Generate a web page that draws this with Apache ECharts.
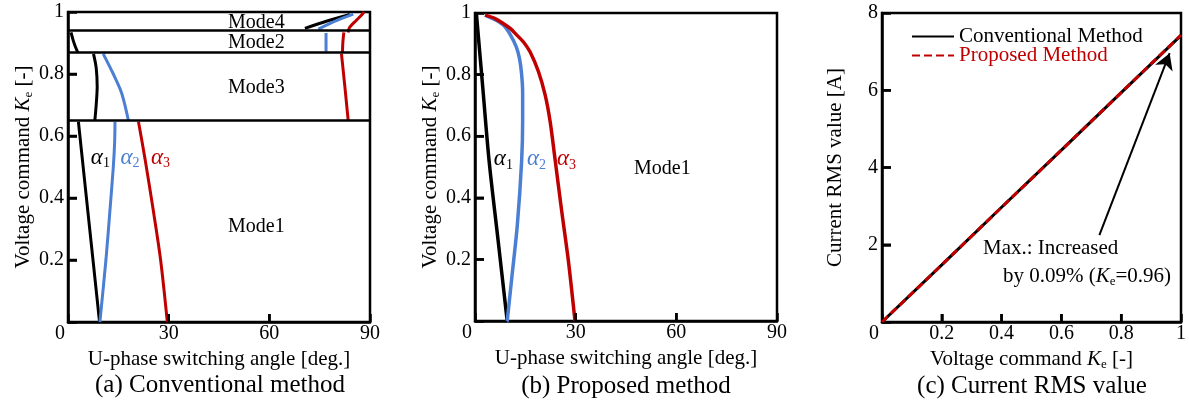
<!DOCTYPE html>
<html>
<head>
<meta charset="utf-8">
<script src="https://cdn.jsdelivr.net/npm/echarts@6/dist/echarts.min.js"></script>
<style>
  html, body { margin: 0; padding: 0; background: #fff; }
  #main { width: 1189px; height: 401px; }
</style>
</head>
<body>
<div id="main"></div>
<script>
// (a) conventional method: switching angles per mode [deg, Ke]
var convA1Mode1 = [[3.1, 0.646], [5.2, 0.43], [7.45, 0.2], [9.4, 0]];
var convA1Mode3 = [[7.6, 0.865], [8.4, 0.82], [8.7, 0.76], [8.4, 0.7], [8.0, 0.65]];
var convA1Mode2 = [[0.9, 0.934], [1.5, 0.91], [2.2, 0.888], [2.9, 0.87]];
var convA1Mode4 = [[70.6, 0.947], [77, 0.97], [84, 0.992]];
var convA2Mode1 = [[9.5, 0], [11.3, 0.2], [12.5, 0.36], [13.5, 0.5], [13.9, 0.58], [14.0, 0.646]];
var convA2Mode3 = [[18, 0.65], [16, 0.738], [13.5, 0.8], [10.5, 0.865]];
var convA2Mode2 = [[76.9, 0.872], [76.9, 0.932]];
var convA2Mode4 = [[74.6, 0.945], [76.1, 0.953], [80, 0.972], [85, 0.993]];
var convA3Mode1 = [[21, 0.646], [23, 0.523], [25.4, 0.361], [27.6, 0.2], [29.6, 0]];
var convA3Mode3 = [[81.5, 0.865], [82.5, 0.76], [83.5, 0.65]];
var convA3Mode2 = [[81.8, 0.87], [81.9, 0.9], [82.2, 0.934]];
var convA3Mode4 = [[83.5, 0.934], [83.9, 0.95], [85.8, 0.972], [87.5, 0.99], [88.2, 1]];
var modeBounds = [0.935, 0.868, 0.648];
var modeLabelsA = [['Mode4', 56.3, 0.965], ['Mode2', 56.3, 0.9], ['Mode3', 56.3, 0.755], ['Mode1', 56.3, 0.307]];
var alphaLabelsA = [['1', 9.8, 0.529, '#000'], ['2', 18.6, 0.529, '#4a7fd4'], ['3', 27.7, 0.529, '#c00000']];

// (b) proposed method
var propA1 = [[0.4, 1], [2.3, 0.76], [4.2, 0.52], [6.9, 0.26], [9.6, 0]];
var propA2 = [[3.0, 0.993], [6, 0.978], [8.5, 0.96], [10.5, 0.93], [12.3, 0.89], [13.3, 0.85], [13.9, 0.8],
  [14.2, 0.74], [14.2, 0.65], [13.9, 0.52], [12.6, 0.31], [11, 0.144], [9.6, 0]];
var propA3 = [[3.0, 0.993], [6, 0.982], [8.4, 0.966], [10.5, 0.95], [12.4, 0.929], [14.5, 0.905], [16.4, 0.874],
  [18.9, 0.81], [20.9, 0.734], [22.4, 0.647], [23.8, 0.53], [25.8, 0.36], [27.8, 0.198], [29.8, 0]];
var modeLabelsB = [['Mode1', 56, 0.493]];
var alphaLabelsB = [['1', 8.6, 0.523, '#000'], ['2', 18.5, 0.523, '#4a7fd4'], ['3', 27.4, 0.523, '#c00000']];

// (c) current RMS value
var keValues = [0, 0.2, 0.4, 0.6, 0.8, 1.0];
var rmsConventional = [0, 1.48, 2.97, 4.45, 5.94, 7.42];
var rmsProposed = [0, 1.48, 2.97, 4.45, 5.94, 7.43];
var arrowFrom = [0.727, 2.25];
var arrowTo = [0.962, 6.96];

// inner tick positions
var angleTicks = [30, 60];
var keTicks = [0.2, 0.4, 0.6, 0.8];
var rmsTicks = [2, 4, 6];

var FONT = 'Liberation Serif';
var BLACK = '#000';
var BLUE = '#4a7fd4';
var RED = '#c00000';

var chartDom = document.getElementById('main');
var myChart = echarts.init(chartDom);

var subRich = {
  i: { fontFamily: FONT, fontSize: 21, fontStyle: 'italic', color: BLACK, lineHeight: 24 },
  s: { fontFamily: FONT, fontSize: 13, color: BLACK, lineHeight: 24, verticalAlign: 'bottom' },
  t: { fontFamily: FONT, fontSize: 21, color: BLACK, lineHeight: 24 }
};
var keName = '{t|Voltage command }{i|K}{s|e}{t| [-]}';

function tickFmt(digits) {
  return function (v) {
    if (v === 0) return '';
    return String(+v.toFixed(digits));
  };
}
function xTickFmt(digits) {
  return function (v) {
    if (v === 0) return '{z|0}';
    return String(+v.toFixed(digits));
  };
}

function xAxisOf(gi, max, interval, digits, name, gap) {
  return {
    type: 'value', gridIndex: gi, min: 0, max: max, interval: interval,
    name: name, nameLocation: 'middle', nameGap: gap,
    nameTextStyle: { fontFamily: FONT, fontSize: 21, color: BLACK, rich: subRich },
    axisLine: { show: true, lineStyle: { color: BLACK, width: 2.5 } },
    axisTick: { show: true, inside: true, length: 8, lineStyle: { color: BLACK, width: 2.5 } },
    axisLabel: {
      fontFamily: FONT, fontSize: 20, color: BLACK, margin: 2, formatter: xTickFmt(digits),
      rich: { z: { fontFamily: FONT, fontSize: 20, color: BLACK, padding: [0, 16, 0, 0] } }
    },
    splitLine: { show: false }
  };
}
function yAxisOf(gi, max, interval, digits, name, gap) {
  return {
    type: 'value', gridIndex: gi, min: 0, max: max, interval: interval,
    name: name, nameLocation: 'middle', nameGap: gap, nameRotate: 90,
    nameTextStyle: { fontFamily: FONT, fontSize: 21, color: BLACK, rich: subRich },
    axisLine: { show: true, lineStyle: { color: BLACK, width: 2.5 } },
    axisTick: { show: true, inside: true, length: 9, lineStyle: { color: BLACK, width: 2.5 } },
    axisLabel: { fontFamily: FONT, fontSize: 20, color: BLACK, margin: 4, formatter: tickFmt(digits) },
    splitLine: { show: false }
  };
}

function curve(data, color, gi, width) {
  return {
    type: 'line', xAxisIndex: gi, yAxisIndex: gi, data: data,
    symbol: 'none', smooth: 0.3, silent: true, z: 3,
    lineStyle: { color: color, width: width }
  };
}

function textMarks(list, gi) {
  return {
    type: 'scatter', xAxisIndex: gi, yAxisIndex: gi, silent: true, z: 4,
    symbolSize: 1, itemStyle: { color: 'rgba(0,0,0,0)', opacity: 1 },
    data: list.map(function (d) { return [d[1], d[2], d[0]]; }),
    label: {
      show: true, position: [0, 0], align: 'center', verticalAlign: 'middle',
      fontFamily: FONT, fontSize: 20, color: BLACK, textBorderWidth: 0,
      formatter: function (p) { return p.data[2]; }
    }
  };
}

function alphaMarks(list, gi) {
  return {
    type: 'scatter', xAxisIndex: gi, yAxisIndex: gi, silent: true, z: 4,
    symbolSize: 1, itemStyle: { color: 'rgba(0,0,0,0)', opacity: 1 },
    data: list.map(function (d) {
      return {
        value: [d[1], d[2]],
        label: {
          formatter: '{a|α}{s|' + d[0] + '}',
          rich: {
            a: { fontFamily: FONT, fontSize: 23, fontStyle: 'italic', color: d[3], lineHeight: 26 },
            s: { fontFamily: FONT, fontSize: 14, color: d[3], lineHeight: 26, verticalAlign: 'bottom' }
          }
        }
      };
    }),
    label: { show: true, position: [0, 0], align: 'center', verticalAlign: 'middle', textBorderWidth: 0 }
  };
}

var series = [];
// panel (a)
[convA1Mode1, convA1Mode3, convA1Mode2, convA1Mode4].forEach(function (d) { series.push(curve(d, BLACK, 0, 3)); });
[convA2Mode1, convA2Mode3, convA2Mode2, convA2Mode4].forEach(function (d) { series.push(curve(d, BLUE, 0, 3)); });
[convA3Mode1, convA3Mode3, convA3Mode2, convA3Mode4].forEach(function (d) { series.push(curve(d, RED, 0, 3)); });
series.push({
  type: 'line', xAxisIndex: 0, yAxisIndex: 0, data: [], silent: true,
  markLine: {
    symbol: 'none', silent: true, animation: false, label: { show: false },
    lineStyle: { color: BLACK, width: 2.5, type: 'solid' },
    data: modeBounds.map(function (v) { return { yAxis: v }; })
  }
});
series.push(textMarks(modeLabelsA, 0));
series.push(alphaMarks(alphaLabelsA, 0));
// panel (b)
series.push(curve(propA1, BLACK, 1, 3.5));
series.push(curve(propA2, BLUE, 1, 3.5));
series.push(curve(propA3, RED, 1, 3.5));
series.push(textMarks(modeLabelsB, 1));
series.push(alphaMarks(alphaLabelsB, 1));
// panel (c)
series.push({
  name: 'Conventional Method', type: 'line', xAxisIndex: 2, yAxisIndex: 2,
  data: keValues.map(function (k, i) { return [k, rmsConventional[i]]; }),
  symbol: 'none', silent: true, z: 3,
  lineStyle: { color: BLACK, width: 3 }, itemStyle: { color: BLACK },
  markLine: {
    symbol: ['none', 'arrow'], symbolSize: [14, 16], silent: true, animation: false,
    label: { show: false }, lineStyle: { color: BLACK, width: 2, type: 'solid' },
    data: [[{ coord: arrowFrom }, { coord: arrowTo }]]
  }
});
series.push({
  name: 'Proposed Method', type: 'line', xAxisIndex: 2, yAxisIndex: 2,
  data: keValues.map(function (k, i) { return [k, rmsProposed[i]]; }),
  symbol: 'none', silent: true, z: 4,
  lineStyle: { color: RED, width: 3, type: [8, 4] }, itemStyle: { color: RED }
});

var textGraphics = [
  { type: 'text', x: 220, y: 385, style: { text: '(a) Conventional method', font: '25px "Liberation Serif"', fill: BLACK, textAlign: 'center', textVerticalAlign: 'middle' } },
  { type: 'text', x: 626, y: 386, style: { text: '(b) Proposed method', font: '25px "Liberation Serif"', fill: BLACK, textAlign: 'center', textVerticalAlign: 'middle' } },
  { type: 'text', x: 1032, y: 386, style: { text: '(c) Current RMS value', font: '25px "Liberation Serif"', fill: BLACK, textAlign: 'center', textVerticalAlign: 'middle' } },
  { type: 'text', x: 983, y: 248, style: { text: 'Max.: Increased', font: '21px "Liberation Serif"', fill: BLACK, textVerticalAlign: 'middle' } },
  { type: 'text', x: 1003, y: 276, style: {
    text: '{t|by 0.09% (}{i|K}{s|e}{t|=0.96)}', rich: subRich, textVerticalAlign: 'middle' } }
];

var option = {
  animation: false,
  grid: [
    { left: 68, top: 12, width: 302, height: 310, show: true, borderColor: BLACK, borderWidth: 2.5 },
    { left: 475, top: 13, width: 302, height: 308, show: true, borderColor: BLACK, borderWidth: 2.5 },
    { left: 882, top: 13, width: 300, height: 309, show: true, borderColor: BLACK, borderWidth: 2.5 }
  ],
  xAxis: [
    xAxisOf(0, 90, 30, 0, 'U-phase switching angle [deg.]', 20),
    xAxisOf(1, 90, 30, 0, 'U-phase switching angle [deg.]', 20),
    xAxisOf(2, 1, 0.2, 1, keName, 18)
  ],
  yAxis: [
    yAxisOf(0, 1, 0.2, 1, keName, 33),
    yAxisOf(1, 1, 0.2, 1, keName, 32),
    yAxisOf(2, 8, 2, 0, 'Current RMS value [A]', 36)
  ],
  legend: {
    orient: 'vertical', left: 911, top: 26, padding: 0, itemWidth: 42, itemHeight: 14, itemGap: -2,
    itemStyle: { opacity: 0 },
    textStyle: { fontFamily: FONT, fontSize: 21 },
    data: [
      { name: 'Conventional Method', textStyle: { color: BLACK } },
      { name: 'Proposed Method', textStyle: { color: RED } }
    ]
  },
  graphic: textGraphics,
  series: series
};

myChart.setOption(option);

// inward tick marks, positioned with the chart's own axis scales
var tickGraphics = [];
function addTicks(gi, xs, ys) {
  xs.forEach(function (v) {
    var p = myChart.convertToPixel({ gridIndex: gi }, [v, 0]);
    tickGraphics.push({ type: 'line', z: 100, silent: true,
      shape: { x1: p[0], y1: p[1], x2: p[0], y2: p[1] - 8 },
      style: { stroke: BLACK, lineWidth: 2.5 } });
  });
  ys.forEach(function (v) {
    var p = myChart.convertToPixel({ gridIndex: gi }, [0, v]);
    tickGraphics.push({ type: 'line', z: 100, silent: true,
      shape: { x1: p[0], y1: p[1], x2: p[0] + 9, y2: p[1] },
      style: { stroke: BLACK, lineWidth: 2.5 } });
  });
}
addTicks(0, angleTicks, keTicks);
addTicks(1, angleTicks, keTicks);
addTicks(2, keTicks, rmsTicks);
myChart.setOption({ graphic: textGraphics.concat(tickGraphics) });
</script>
</body>
</html>
